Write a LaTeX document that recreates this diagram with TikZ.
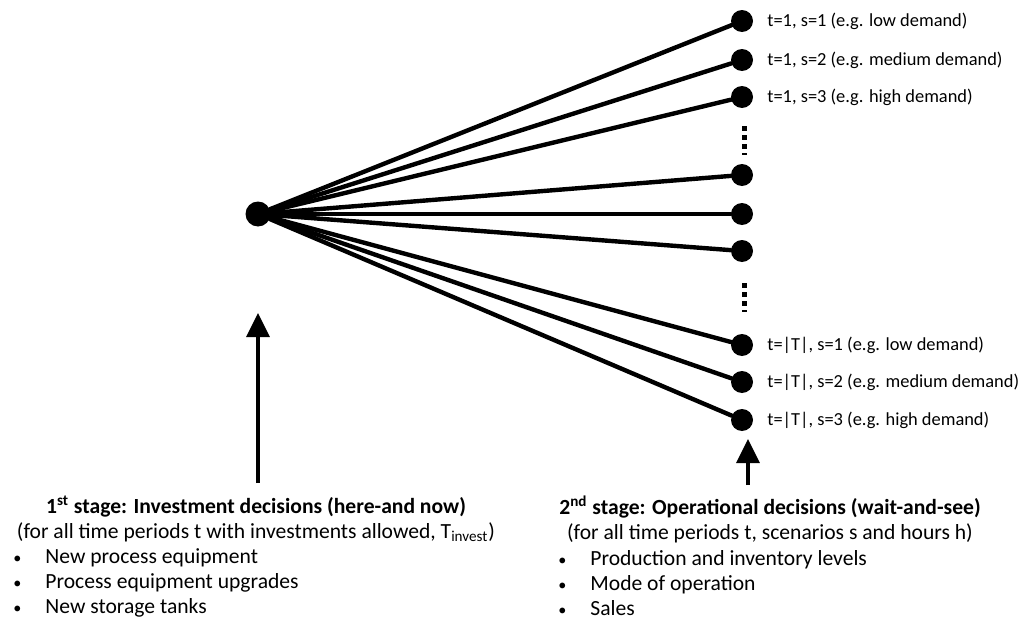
\documentclass[tikz,border=0pt]{standalone}
\usepackage{fontspec}
\setmainfont{Carlito}
\usetikzlibrary{arrows.meta}
\newcommand{\bulletitem}[1]{\makebox[16pt][l]{\scalebox{0.75}{\textbullet}}#1}
\begin{document}
\begin{tikzpicture}[
	x=0.5pt,
	y=-0.5pt,
	line join=round,
	line cap=round,
	>={Triangle[length=12pt,width=11.5pt]},
	rootdot/.style={circle, fill, inner sep=0pt, minimum size=12.5pt},
	leafdot/.style={circle, fill, inner sep=0pt, minimum size=11pt},
	branch/.style={line width=2.2pt},
	scen/.style={anchor=west, inner sep=0pt, font=\fontsize{9.2}{11}\selectfont},
	head/.style={align=center, inner sep=0pt, font=\fontsize{10.8}{12.5}\selectfont},
	items/.style={anchor=west, align=left, inner sep=0pt, font=\fontsize{10.8}{12.7}\selectfont},
	]
\useasboundingbox (0,0) rectangle (1025,621);
\node[rootdot] (root) at (258,214) {};
\foreach \n/\y in {1/21, 2/60, 3/97, 4/175, 5/214, 6/251, 7/345, 8/382, 9/420}
	{
	\node[leafdot] (leaf\n) at (742,\y) {};
	\draw[branch] (root) -- (leaf\n);
	}
\foreach \n/\t in {1/{t=1, s=1 (e.g. low demand)},
	2/{t=1, s=2 (e.g. medium demand)},
	3/{t=1, s=3 (e.g. high demand)},
	7/{t=|T|, s=1 (e.g. low demand)},
	8/{t=|T|, s=2 (e.g. medium demand)},
	9/{t=|T|, s=3 (e.g. high demand)}}
	\node[scen] (lab\n) at ([xshift=12.5pt]leaf\n.center) {\t};
% ellipsis dots
\coordinate (dotsa) at (744,126);
\coordinate (dotsb) at (744,155);
\coordinate (dotsc) at (744,283);
\coordinate (dotsd) at (744,312);
\draw[line width=2.5pt, line cap=butt, dash pattern=on 2.5pt off 2pt] (dotsa) -- (dotsb);
\draw[line width=2.5pt, line cap=butt, dash pattern=on 2.5pt off 2pt] (dotsc) -- (dotsd);
% stage labels
\node[head] (first) at (256,519) {\textbf{1\textsuperscript{st} stage: Investment decisions (here-and now)}\\
	(for all time periods t with investments allowed, T\textsubscript{invest})};
\node[items] (firstlist) at (13,583) {\bulletitem{New process equipment}\\
	\bulletitem{Process equipment upgrades}\\
	\bulletitem{New storage tanks}};
\node[head] (second) at (770,519) {\textbf{2\textsuperscript{nd} stage: Operational decisions (wait-and-see)}\\
	(for all time periods t, scenarios s and hours h)};
\node[items] (secondlist) at (558,583) {\bulletitem{Production and inventory levels}\\
	\bulletitem{Mode of operation}\\
	\bulletitem{Sales}};
\coordinate (firstfoot) at (258,483);
\coordinate (firsttip) at (258,313);
\coordinate (secondfoot) at (748,485);
\coordinate (secondtip) at (748,439);
\draw[->, line width=1.6pt, line cap=butt] (firstfoot) -- (firsttip);
\draw[->, line width=1.6pt, line cap=butt] (secondfoot) -- (secondtip);
\end{tikzpicture}
\end{document}
